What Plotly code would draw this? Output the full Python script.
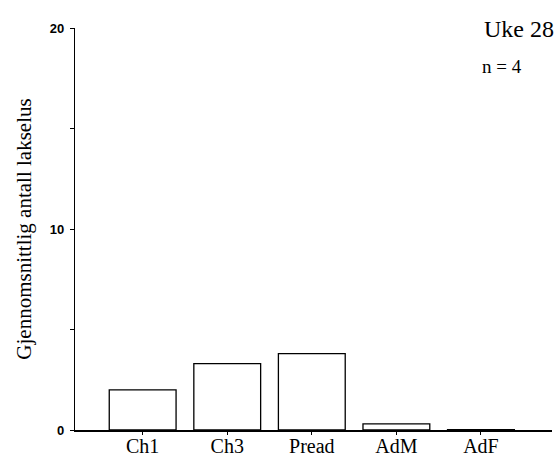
import plotly.graph_objects as go

categories = ["Ch1", "Ch3", "Pread", "AdM", "AdF"]
values = [2.0, 3.3, 3.8, 0.3, 0.02]
y_tickvals = [0, 5, 10, 15, 20]
y_ticktext = ["0", "", "10", "", "20"]

fig = go.Figure()
fig.add_trace(go.Bar(
    x=list(range(len(categories))), y=values,
    width=0.79,
    marker=dict(color="white", line=dict(color="black", width=1.3)),
))

W, H = 560, 459
L, R, T, B = 75, 8, 28, 29
SERIF = "Liberation Serif, Times New Roman, serif"
fig.update_layout(
    width=W, height=H,
    margin=dict(l=L, r=R, t=T, b=B),
    paper_bgcolor="white", plot_bgcolor="white",
    showlegend=False,
    xaxis=dict(
        range=[-0.8, 4.84], automargin=False,
        tickvals=list(range(len(categories))), ticktext=categories,
        showgrid=False, zeroline=False,
        showline=True, linecolor="black", linewidth=1.5,
        ticks="outside", ticklen=3, tickcolor="black",
        ticklabelstandoff=-6,
        tickfont=dict(family=SERIF, size=20, color="black"),
    ),
    yaxis=dict(
        range=[0, 20], automargin=False,
        tickvals=y_tickvals, ticktext=y_ticktext,
        showgrid=False, zeroline=False,
        showline=True, linecolor="black", linewidth=1.2,
        ticks="outside", ticklen=4, tickcolor="black",
        ticklabelstandoff=3,
        tickfont=dict(family="Liberation Sans, Arial, sans-serif", size=13, color="black", weight="bold"),
        title=dict(text="Gjennomsnittlig antall lakselus",
                   font=dict(family=SERIF, size=21, color="black"),
                   standoff=12),
    ),
    annotations=[
        dict(text="Uke 28", xref="paper", yref="paper", x=(556 - L) / (W - L - R), y=1 - (29 - T) / (H - T - B),
             xanchor="right", yanchor="middle", showarrow=False,
             font=dict(family=SERIF, size=24, color="black")),
        dict(text="n = 4", xref="paper", yref="paper", x=(480 - L) / (W - L - R), y=1 - (67 - T) / (H - T - B),
             xanchor="left", yanchor="middle", showarrow=False,
             font=dict(family=SERIF, size=19, color="black")),
    ],
)

fig.write_html("out.html")
